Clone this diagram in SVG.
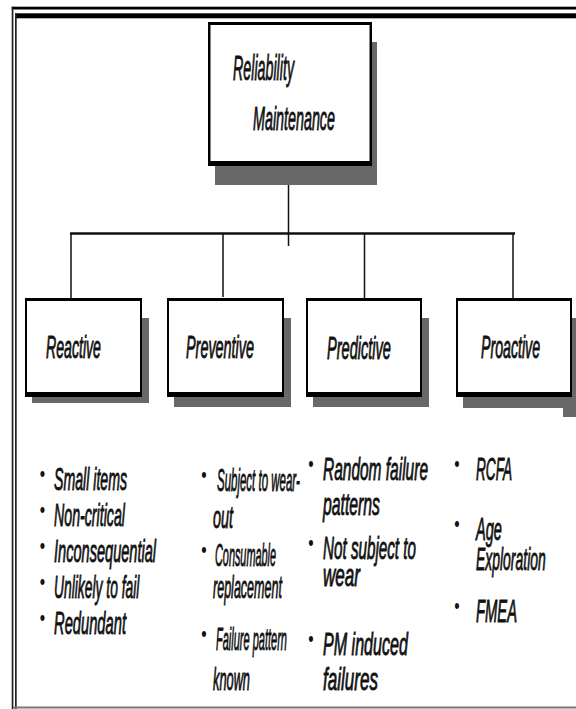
<svg xmlns="http://www.w3.org/2000/svg" width="576" height="709" viewBox="0 0 576 709">
<defs>
<style>
.t{font-family:"Liberation Sans",Arial,sans-serif;font-style:italic;fill:#111;stroke:#111;stroke-width:0.9px;font-size:31px}
.b{font-family:"Liberation Sans",Arial,sans-serif;font-size:22px;fill:#111;text-anchor:middle}
.sh{fill:#686868}
.bk{fill:#000}
.wh{fill:#fff}
.c{stroke:#111;fill:none}
</style>
</defs>
<rect x="0" y="0" width="576" height="709" fill="#fff"/>
<g id="frame">
<rect x="11.7" y="6.7" width="564.3" height="2.8" fill="#000"/>
<rect x="15" y="13.3" width="561" height="5" fill="#000"/>
<rect x="11.7" y="6.7" width="1.7" height="702.3" fill="#222"/>
<rect x="15" y="13.3" width="1.7" height="695.7" fill="#222"/>
<rect x="13" y="706.5" width="563" height="2" fill="#777"/>
</g>
<g id="connectors">
<line class="c" x1="288.5" y1="185" x2="288.5" y2="246" stroke-width="1.5"/>
<line class="c" x1="70" y1="233.5" x2="515" y2="233.5" stroke-width="2.5"/>
<line class="c" x1="71" y1="234" x2="71" y2="304" stroke-width="1.5"/>
<line class="c" x1="223" y1="234" x2="223" y2="297" stroke-width="1.5"/>
<line class="c" x1="364.5" y1="234" x2="364.5" y2="305" stroke-width="1.5"/>
<line class="c" x1="513" y1="234" x2="513" y2="304" stroke-width="1.5"/>
</g>
<g id="root">
<rect class="sh" x="215" y="42" width="162" height="143"/>
<rect class="bk" x="208" y="22" width="164" height="144"/>
<rect class="wh" x="210.5" y="25" width="159" height="136"/>
<text class="t" style="font-size:35px" transform="matrix(0.4075 0 0 1 233 80)">Reliability</text>
<text class="t" style="font-size:33px" transform="matrix(0.434 0 0 1 253 130)">Maintenance</text>
</g>
<g id="reactive">
<rect class="sh" x="32" y="318" width="117" height="85"/>
<rect class="bk" x="25" y="298" width="117" height="99"/>
<rect class="wh" x="27" y="301" width="113" height="91"/>
<text class="t" transform="matrix(0.456 0 0 1 46 358)">Reactive</text>
</g>
<g id="preventive">
<rect class="sh" x="174" y="318" width="117" height="89"/>
<rect class="bk" x="167" y="298" width="117" height="99"/>
<rect class="wh" x="169" y="301" width="113" height="91"/>
<text class="t" transform="matrix(0.464 0 0 1 186 358)">Preventive</text>
</g>
<g id="predictive">
<rect class="sh" x="313" y="318" width="116" height="89"/>
<rect class="bk" x="306" y="298" width="116" height="99"/>
<rect class="wh" x="308" y="301" width="112" height="91"/>
<text class="t" transform="matrix(0.47 0 0 1 327 359)">Predictive</text>
</g>
<g id="proactive">
<rect class="sh" x="463" y="318" width="113" height="90"/>
<rect class="sh" x="563" y="408" width="13" height="9"/>
<rect class="bk" x="456" y="298" width="116" height="99"/>
<rect class="wh" x="458" y="301" width="112" height="91"/>
<text class="t" transform="matrix(0.457 0 0 1 481 358)">Proactive</text>
</g>
<g id="reactive-list">
<text class="b" transform="matrix(0.7 0 0 1 42.5 481)">•</text>
<text class="t" transform="matrix(0.456 0 0 1 54 490)">Small items</text>
<text class="b" transform="matrix(0.7 0 0 1 42.5 517)">•</text>
<text class="t" transform="matrix(0.458 0 0 1 54 526)">Non-critical</text>
<text class="b" transform="matrix(0.7 0 0 1 42.5 553)">•</text>
<text class="t" transform="matrix(0.47 0 0 1 54 562)">Inconsequential</text>
<text class="b" transform="matrix(0.7 0 0 1 42.5 589)">•</text>
<text class="t" transform="matrix(0.447 0 0 1 54 598)">Unlikely to fail</text>
<text class="b" transform="matrix(0.7 0 0 1 42.5 625)">•</text>
<text class="t" transform="matrix(0.475 0 0 1 54 634)">Redundant</text>
</g>
<g id="preventive-list">
<text class="b" transform="matrix(0.7 0 0 1 204 482)">•</text>
<text class="t" transform="matrix(0.3706 0 0 1 217 491)">Subject to wear-</text>
<text class="t" transform="matrix(0.464 0 0 1 213 528)">out</text>
<text class="b" transform="matrix(0.7 0 0 1 204 557)">•</text>
<text class="t" transform="matrix(0.3506 0 0 1 215 566)">Consumable</text>
<text class="t" transform="matrix(0.4045 0 0 1 213 598)">replacement</text>
<text class="b" transform="matrix(0.7 0 0 1 204 641)">•</text>
<text class="t" transform="matrix(0.355 0 0 1 216 650)">Failure pattern</text>
<text class="t" transform="matrix(0.413 0 0 1 213 690)">known</text>
</g>
<g id="predictive-list">
<text class="b" transform="matrix(0.7 0 0 1 311 471)">•</text>
<text class="t" transform="matrix(0.4995 0 0 1 323 480)">Random failure</text>
<text class="t" transform="matrix(0.509 0 0 1 323 515)">patterns</text>
<text class="b" transform="matrix(0.7 0 0 1 311 550)">•</text>
<text class="t" transform="matrix(0.491 0 0 1 323 559)">Not subject to</text>
<text class="t" transform="matrix(0.55 0 0 1 323 586)">wear</text>
<text class="b" transform="matrix(0.7 0 0 1 311 646)">•</text>
<text class="t" transform="matrix(0.519 0 0 1 323 655)">PM induced</text>
<text class="t" transform="matrix(0.55 0 0 1 323 690)">failures</text>
</g>
<g id="proactive-list">
<text class="b" transform="matrix(0.7 0 0 1 457 471)">•</text>
<text class="t" transform="matrix(0.44 0 0 1 476 480)">RCFA</text>
<text class="b" transform="matrix(0.7 0 0 1 457 531)">•</text>
<text class="t" transform="matrix(0.47 0 0 1 476 540)">Age</text>
<text class="t" transform="matrix(0.45 0 0 1 476 570)">Exploration</text>
<text class="b" transform="matrix(0.7 0 0 1 457 613)">•</text>
<text class="t" transform="matrix(0.477 0 0 1 476 622)">FMEA</text>
</g>
</svg>
